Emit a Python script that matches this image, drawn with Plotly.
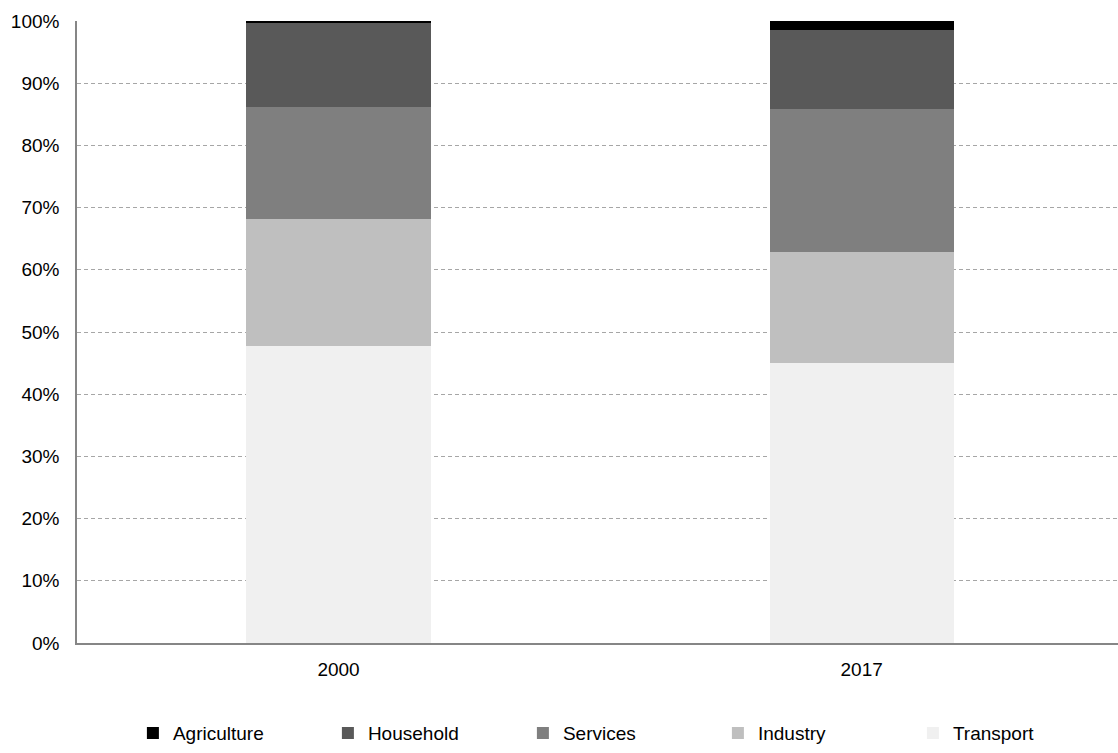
import plotly.graph_objects as go

years = ["2000", "2017"]
sectors = ["Transport", "Industry", "Services", "Household", "Agriculture"]
values = {
    "Transport":   [0.477, 0.450],
    "Industry":    [0.205, 0.178],
    "Services":    [0.180, 0.231],
    "Household":   [0.136, 0.126],
    "Agriculture": [0.002, 0.015],
}
colors = {
    "Transport": "#f0f0f0",
    "Industry": "#bfbfbf",
    "Services": "#7f7f7f",
    "Household": "#595959",
    "Agriculture": "#000000",
}
yticks = [0, 0.1, 0.2, 0.3, 0.4, 0.5, 0.6, 0.7, 0.8, 0.9, 1.0]

fig = go.Figure()
for i, s in enumerate(sectors):
    fig.add_trace(go.Bar(
        x=years, y=values[s], name=s,
        marker=dict(color=colors[s], line=dict(width=0)),
        width=0.352,
        legendrank=100 - i,
    ))

font = dict(family="Liberation Sans, Arial, sans-serif", size=19, color="#000000")
fig.update_layout(
    barmode="stack",
    width=1118, height=753,
    margin=dict(l=77, r=0, t=21, b=110),
    plot_bgcolor="white", paper_bgcolor="white",
    font=font,
    showlegend=True,
    legend=dict(orientation="h", x=0.522, xanchor="center", y=-0.145, yanchor="middle",
                entrywidth=150, entrywidthmode="pixels", itemwidth=30,
                font=font, traceorder="normal"),
    xaxis=dict(type="category", range=[-0.5, 1.49], showline=True, linecolor="#868686",
               linewidth=1.5, showgrid=False, ticks="", ticklabelstandoff=8),
    yaxis=dict(range=[0, 1], tickvals=yticks, tickformat=".0%", showline=True,
               linecolor="#868686", linewidth=1.5, showgrid=True, gridcolor="#a6a6a6",
               griddash="4px,3px", gridwidth=1, zeroline=False, ticks="",
               ticklabelstandoff=12),
)
fig.write_html("out.html")
